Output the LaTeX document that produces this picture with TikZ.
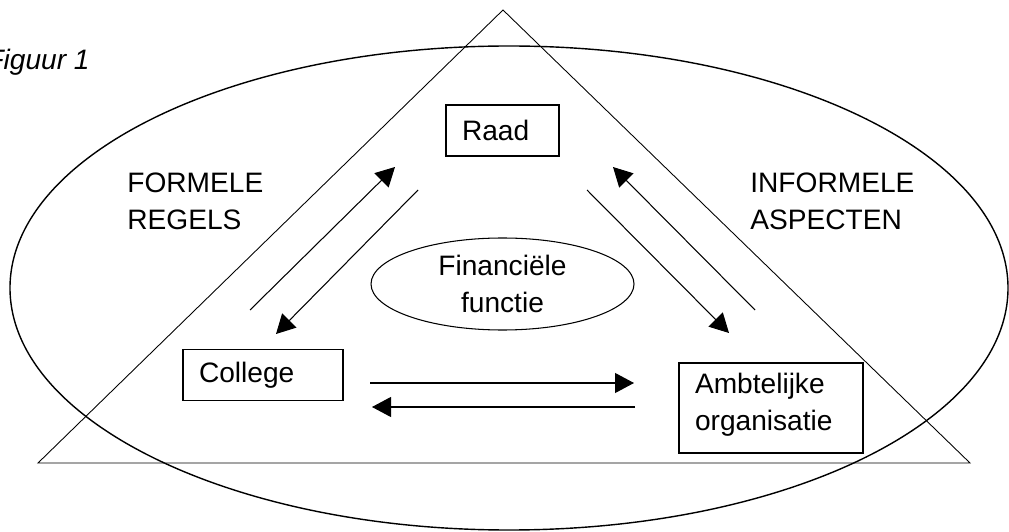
\documentclass[tikz,border=0pt]{standalone}
\usepackage{fontspec}
\setmainfont{Liberation Sans}
\usetikzlibrary{arrows.meta,shapes.geometric}
\begin{document}
\begin{tikzpicture}[every node/.style={font=\fontsize{16}{21}\selectfont},
  box/.style={draw,line width=1.1pt,align=left,inner xsep=0.32cm,inner ysep=0pt,minimum height=1.02cm},
  flow/.style={-{Triangle[length=0.38cm,width=0.40cm]},line width=0.6pt}]
\useasboundingbox (0,0) rectangle (20.18,10.62);
% outer ellipse and triangle
\draw[line width=0.8pt] (10.18,4.86) ellipse [x radius=9.98, y radius=4.84];
\coordinate (top) at (10.06,10.42); \coordinate (left) at (0.76,1.36); \coordinate (right) at (19.40,1.36);
\draw[line width=0.5pt] (top) -- (left) -- (right) -- cycle;
% texts
\node[anchor=base east,inner sep=0pt,font=\fontsize{16}{21}\selectfont\itshape] (fig) at (1.80,9.22) {Figuur 1};
\node[anchor=north west,align=left,inner sep=0pt] (formeel) at (2.54,7.16) {FORMELE\\REGELS};
\node[anchor=north west,align=left,inner sep=0pt] (informeel) at (15.00,7.16) {INFORMELE\\ASPECTEN};
% actors
\node[box,text width=1.62cm] (raad) at (10.05,8.01) {Raad};
\node[box,text width=2.56cm] (college) at (5.26,3.12) {College};
\node[box,text width=3.04cm,minimum height=1.80cm] (ambt) at (15.42,2.46) {Ambtelijke\\organisatie\rule[-0.25cm]{0pt}{0pt}};
\node[draw,ellipse,line width=0.6pt,minimum width=5.26cm,minimum height=1.84cm,inner sep=0pt,align=center] (fin) at (10.05,4.94) {Financiële\\functie};
% arrows
\coordinate (cr1) at (5.00,4.42); \coordinate (cr2) at (7.90,7.28);
\coordinate (rc1) at (8.36,6.82); \coordinate (rc2) at (5.52,3.94);
\coordinate (ra1) at (11.74,6.82); \coordinate (ra2) at (14.58,3.96);
\coordinate (ar1) at (15.10,4.42); \coordinate (ar2) at (12.26,7.28);
\coordinate (ca1) at (7.40,2.96); \coordinate (ca2) at (12.68,2.96);
\coordinate (ac1) at (12.70,2.48); \coordinate (ac2) at (7.44,2.48);
\draw[flow] (cr1)--(cr2); \draw[flow] (rc1)--(rc2);
\draw[flow] (ra1)--(ra2); \draw[flow] (ar1)--(ar2);
\draw[flow] (ca1)--(ca2); \draw[flow] (ac1)--(ac2);
\end{tikzpicture}
\end{document}
